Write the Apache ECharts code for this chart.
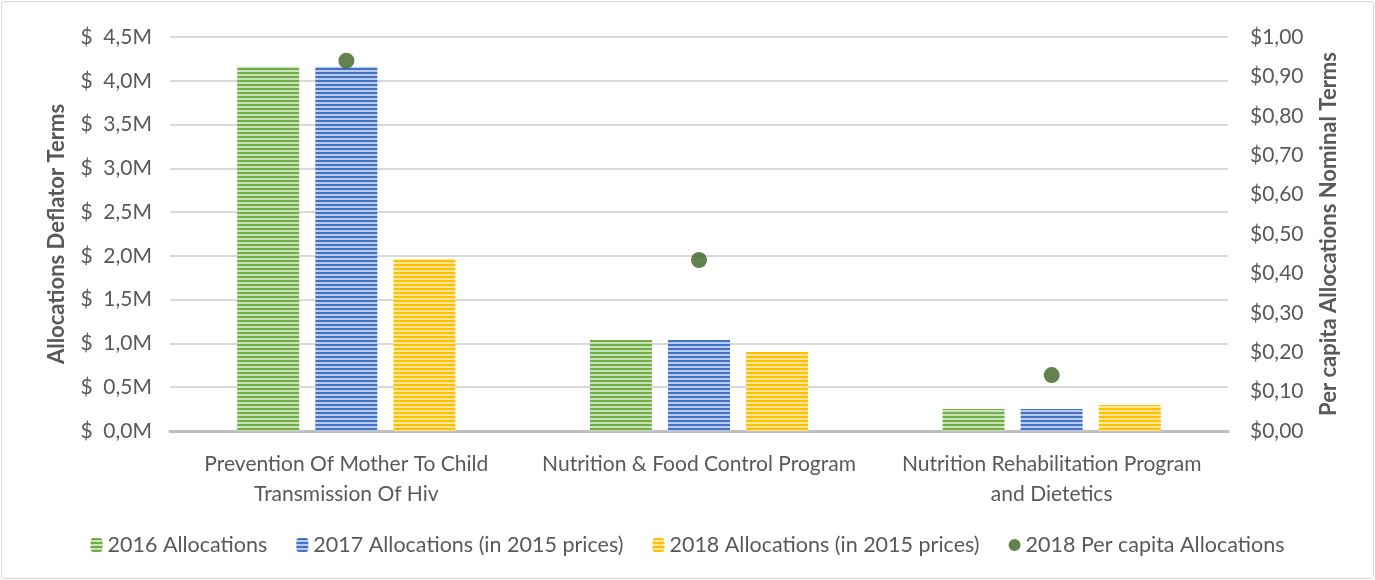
<!DOCTYPE html>
<html>
<head>
<meta charset="utf-8">
<script src="https://cdn.jsdelivr.net/npm/echarts@6/dist/echarts.min.js"></script>
<style>
  html, body { margin: 0; padding: 0; background: #fff; }
  #wrap { position: absolute; left: 1px; top: 1px; width: 1371px; height: 576px; border: 1px solid #d9d9d9; border-radius: 3px; }
  #chart { width: 1375px; height: 580px; position: absolute; left: 0; top: 0; }
</style>
</head>
<body>
<div id="wrap"></div>
<div id="chart"></div>
<script>
// categories and values
var programs = [
  'Prevention Of Mother To Child\nTransmission Of Hiv',
  'Nutrition & Food Control Program',
  'Nutrition Rehabilitation Program\nand Dietetics'
]
var alloc2016 = [4160000, 1040000, 250000]
var alloc2017 = [4160000, 1040000, 250000]
var alloc2018 = [1965000, 902000, 297000]
var perCapita2018 = [0.94, 0.434, 0.142]

var leftTicks = { min: 0, max: 4500000, step: 500000 }
var rightTicks = { min: 0, max: 1, step: 0.1 }

// striped fill like the excel pattern
function stripes(color, light) {
  var c = document.createElement('canvas')
  c.width = 4
  c.height = 4
  var ctx = c.getContext('2d')
  ctx.fillStyle = light
  ctx.fillRect(0, 0, 4, 4)
  ctx.fillStyle = color
  ctx.fillRect(0, 0, 4, 2)
  return { image: c, repeat: 'repeat' }
}

var font = 'Lato, "Open Sans", sans-serif'
var grey = '#595959'

var chart = echarts.init(document.getElementById('chart'))

var option = {
  animation: false,
  textStyle: { fontFamily: font },
  grid: { left: 170, right: 147, top: 37, bottom: 149 },
  legend: {
    bottom: 19,
    left: 'center',
    itemWidth: 12,
    itemHeight: 14,
    itemGap: 29,
    textStyle: { fontSize: 21.5, color: grey, fontFamily: font },
    data: [
      '2016 Allocations',
      '2017 Allocations (in 2015 prices)',
      '2018 Allocations (in 2015 prices)',
      { name: '2018 Per capita Allocations', icon: 'circle' }
    ]
  },
  xAxis: {
    type: 'category',
    data: programs,
    axisTick: { show: false },
    axisLine: { lineStyle: { color: '#bfbfbf', width: 3 } },
    axisLabel: { color: grey, fontSize: 21, lineHeight: 30, margin: 18, interval: 0 }
  },
  yAxis: [
    {
      type: 'value',
      min: leftTicks.min,
      max: leftTicks.max,
      interval: leftTicks.step,
      name: 'Allocations Deflator Terms',
      nameLocation: 'middle',
      nameGap: 102,
      nameTextStyle: { fontSize: 22, fontWeight: 'bold', color: grey },
      axisLabel: {
        color: grey, fontSize: 21, margin: 18,
        formatter: function (v) { return '$  ' + (v / 1e6).toFixed(1).replace('.', ',') + 'M' }
      },
      splitLine: { lineStyle: { color: '#d9d9d9', width: 2 } }
    },
    {
      type: 'value',
      min: rightTicks.min,
      max: rightTicks.max,
      interval: rightTicks.step,
      name: 'Per capita Allocations Nominal Terms',
      nameLocation: 'middle',
      nameGap: 90,
      nameRotate: 90,
      nameTextStyle: { fontSize: 22, fontWeight: 'bold', color: grey },
      axisLabel: {
        color: grey, fontSize: 21, margin: 22,
        formatter: function (v) { return '$' + v.toFixed(2).replace('.', ',') }
      },
      splitLine: { show: false }
    }
  ],
  series: [
    {
      name: '2016 Allocations',
      type: 'bar',
      barWidth: 62,
      barGap: '26%',
      itemStyle: { color: stripes('#70ad47', '#c9e2b8') },
      data: alloc2016
    },
    {
      name: '2017 Allocations (in 2015 prices)',
      type: 'bar',
      barWidth: 62,
      barGap: '26%',
      itemStyle: { color: stripes('#4472c4', '#b8cbec') },
      data: alloc2017
    },
    {
      name: '2018 Allocations (in 2015 prices)',
      type: 'bar',
      barWidth: 62,
      barGap: '26%',
      itemStyle: { color: stripes('#ffc000', '#ffe59a') },
      data: alloc2018
    },
    {
      name: '2018 Per capita Allocations',
      type: 'scatter',
      yAxisIndex: 1,
      symbolSize: 16,
      itemStyle: { color: '#3b6323' },
      data: perCapita2018
    }
  ]
}

chart.setOption(option)
</script>
</body>
</html>
